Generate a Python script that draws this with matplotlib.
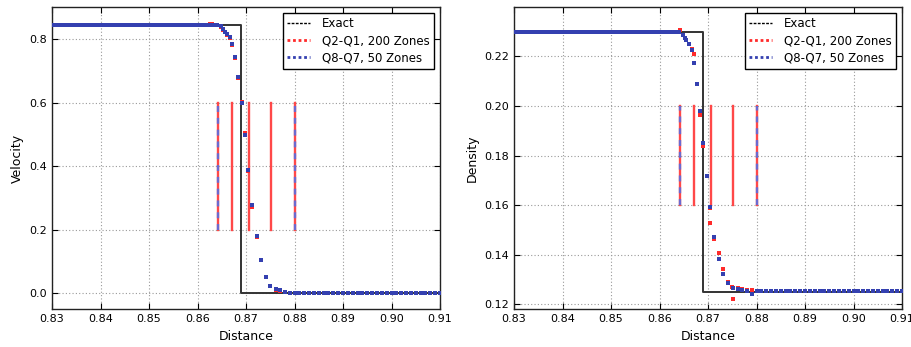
import numpy as np
import matplotlib
matplotlib.use('Agg')
import matplotlib.pyplot as plt
from matplotlib.lines import Line2D

# ---------------- data ----------------
shock_x = 0.8689
vel_left, vel_right = 0.844, 0.0
rho_left, rho_right = 0.2296, 0.125

# plateau levels of the numerical solutions and their node spacing
vel_plateau_left, vel_plateau_right = 0.844, 0.0
rho_plateau_left, rho_plateau_right = 0.2296, 0.1253
left_node_step = 0.00054
right_node_step = 0.001
left_plateau_end = 0.8645
red_vel_plateau_end = 0.8618
right_plateau_start = 0.8800

# element boundaries (vertical markers)
boundaries_red = [0.8643, 0.8672, 0.8706, 0.8751, 0.8800]
boundaries_blue = [0.8643, 0.8800]
vel_marker_span = [0.2, 0.6]
rho_marker_span = [0.16, 0.20]

# transition region, Q8-Q7 50 zones (blue)
vel_x_blue = [0.8648, 0.8653, 0.8657, 0.8661, 0.8666, 0.8672, 0.8677, 0.8684,
              0.8691, 0.8697, 0.8705, 0.8713, 0.8722, 0.8731, 0.8741, 0.8750,
              0.8761, 0.8771, 0.8780, 0.8791]
vel_y_blue = [0.841, 0.832, 0.824, 0.816, 0.808, 0.787, 0.745, 0.682,
              0.600, 0.498, 0.388, 0.278, 0.180, 0.105, 0.052, 0.023,
              0.013, 0.010, 0.006, 0.000]

# transition region, Q2-Q1 200 zones (red)
vel_x_red = [0.8622, 0.8626, 0.8630, 0.8634, 0.8638, 0.8648, 0.8653, 0.8657,
             0.8661, 0.8666, 0.8672, 0.8677, 0.8684, 0.8691, 0.8697, 0.8705,
             0.8713, 0.8722, 0.8731, 0.8741, 0.8750, 0.8761, 0.8771, 0.8780,
             0.8791]
vel_y_red = [0.846, 0.847, 0.847, 0.846, 0.845, 0.840, 0.831, 0.823,
             0.814, 0.803, 0.782, 0.743, 0.680, 0.602, 0.504, 0.386,
             0.272, 0.177, 0.104, 0.051, 0.022, 0.012, 0.009, 0.005,
             0.002]

rho_x_blue = [0.8648, 0.8653, 0.8655, 0.8660, 0.8666, 0.8672, 0.8677, 0.8683,
              0.8690, 0.8697, 0.8705, 0.8712, 0.8722, 0.8731, 0.8741, 0.8751,
              0.8761, 0.8770, 0.8781, 0.8791]
rho_y_blue = [0.2285, 0.2272, 0.2265, 0.2250, 0.2225, 0.2171, 0.2087, 0.1979,
              0.1852, 0.1716, 0.1591, 0.1473, 0.1382, 0.1322, 0.1285, 0.1266,
              0.1261, 0.1258, 0.1255, 0.1241]

rho_x_red = [0.8643, 0.8648, 0.8653, 0.8655, 0.8660, 0.8666, 0.8671, 0.8677,
             0.8683, 0.8690, 0.8697, 0.8705, 0.8705, 0.8712, 0.8722, 0.8731,
             0.8741, 0.8750, 0.8751, 0.8761, 0.8770, 0.8781, 0.8791]
rho_y_red = [0.2308, 0.2285, 0.2272, 0.2265, 0.2248, 0.2228, 0.2208, 0.2090,
             0.1963, 0.1838, 0.1716, 0.1590, 0.1527, 0.1464, 0.1406, 0.1343,
             0.1290, 0.1269, 0.1222, 0.1265, 0.1262, 0.1256, 0.1256]

x_ticks = [0.83, 0.84, 0.85, 0.86, 0.87, 0.88, 0.89, 0.90, 0.91]
vel_ticks = [0.0, 0.2, 0.4, 0.6, 0.8]
rho_ticks = [0.12, 0.14, 0.16, 0.18, 0.20, 0.22]
legend_labels = ['Exact', 'Q2-Q1, 200 Zones', 'Q8-Q7, 50 Zones']

# ---------------- styling ----------------
RED = '#ff2a2a'
BLUE = '#3440b0'
EXACT = '#333333'

fig = plt.figure(figsize=(9.12, 3.47), dpi=100)
ax1 = fig.add_axes([52/912, 1 - 309.3/347, 388/912, 302.6/347])
ax2 = fig.add_axes([514/912, 1 - 309.3/347, 388/912, 302.6/347])

x_left_nodes = np.arange(0.8300, left_plateau_end, left_node_step)
x_left_nodes_red = np.arange(0.8300, red_vel_plateau_end, left_node_step)
x_right_nodes = np.arange(right_plateau_start, 0.9105, right_node_step)


def draw(ax, left, right, pl_left, pl_right, xb, yb, xr, yr, span, red_left_nodes):
    ax.plot([0.82, shock_x, shock_x, 0.92], [left, left, right, right],
            color=EXACT, lw=1.4, zorder=3)
    for b in boundaries_red:
        ax.plot([b, b], span, color='#ff4848', lw=1.7, zorder=2)
    for b in boundaries_blue:
        ax.plot([b, b], span, color='#6a6ad0', lw=1.7, ls=(0, (2.5, 2.5)), zorder=2.1)
    ms = 2.8
    rx = np.concatenate([red_left_nodes, xr, x_right_nodes])
    ry = np.concatenate([np.full(len(red_left_nodes), pl_left), yr,
                         np.full(len(x_right_nodes), pl_right)])
    ax.plot(rx, ry, ls='none', marker='s', ms=ms, mew=0, color=RED, zorder=4)
    bx = np.concatenate([x_left_nodes, xb, x_right_nodes])
    by = np.concatenate([np.full(len(x_left_nodes), pl_left), yb,
                         np.full(len(x_right_nodes), pl_right)])
    ax.plot(bx, by, ls='none', marker='s', ms=ms, mew=0, color=BLUE, zorder=5)
    ax.set_xlim(0.83, 0.91)
    ax.set_xticks(x_ticks)
    ax.set_xticklabels([f'{t:.2f}' for t in x_ticks])
    ax.grid(True, ls=(0, (1, 2)), color='#999999', lw=0.8)
    ax.set_axisbelow(True)
    ax.tick_params(direction='in', top=True, right=True, labelsize=8, length=4)
    for s in ax.spines.values():
        s.set_linewidth(1.0)
        s.set_color('#222222')
    ax.set_xlabel('Distance', fontsize=9)
    handles = [Line2D([], [], color='k', lw=1.0, ls=(0, (2, 1))),
               Line2D([], [], color=RED, lw=2.0, ls=(0, (1, 1))),
               Line2D([], [], color=BLUE, lw=2.0, ls=(0, (1, 1)))]
    leg = ax.legend(handles, legend_labels, loc='upper right', fontsize=8.5,
                    fancybox=False, framealpha=1, edgecolor='k',
                    handlelength=1.9, handletextpad=1.0, borderpad=0.4,
                    labelspacing=0.35, borderaxespad=0.5)
    leg.get_frame().set_linewidth(1.0)


draw(ax1, vel_left, vel_right, vel_plateau_left, vel_plateau_right,
     vel_x_blue, vel_y_blue, vel_x_red, vel_y_red, vel_marker_span, x_left_nodes_red)
ax1.set_ylim(-0.05, 0.903)
ax1.set_yticks(vel_ticks)
ax1.set_yticklabels([f'{t:.1f}' for t in vel_ticks])
ax1.set_ylabel('Velocity', fontsize=9)

draw(ax2, rho_left, rho_right, rho_plateau_left, rho_plateau_right,
     rho_x_blue, rho_y_blue, rho_x_red, rho_y_red, rho_marker_span, x_left_nodes)
ax2.set_ylim(0.118, 0.24)
ax2.set_yticks(rho_ticks)
ax2.set_yticklabels([f'{t:.2f}' for t in rho_ticks])
ax2.set_ylabel('Density', fontsize=9)

fig.savefig('out.png', dpi=100)
